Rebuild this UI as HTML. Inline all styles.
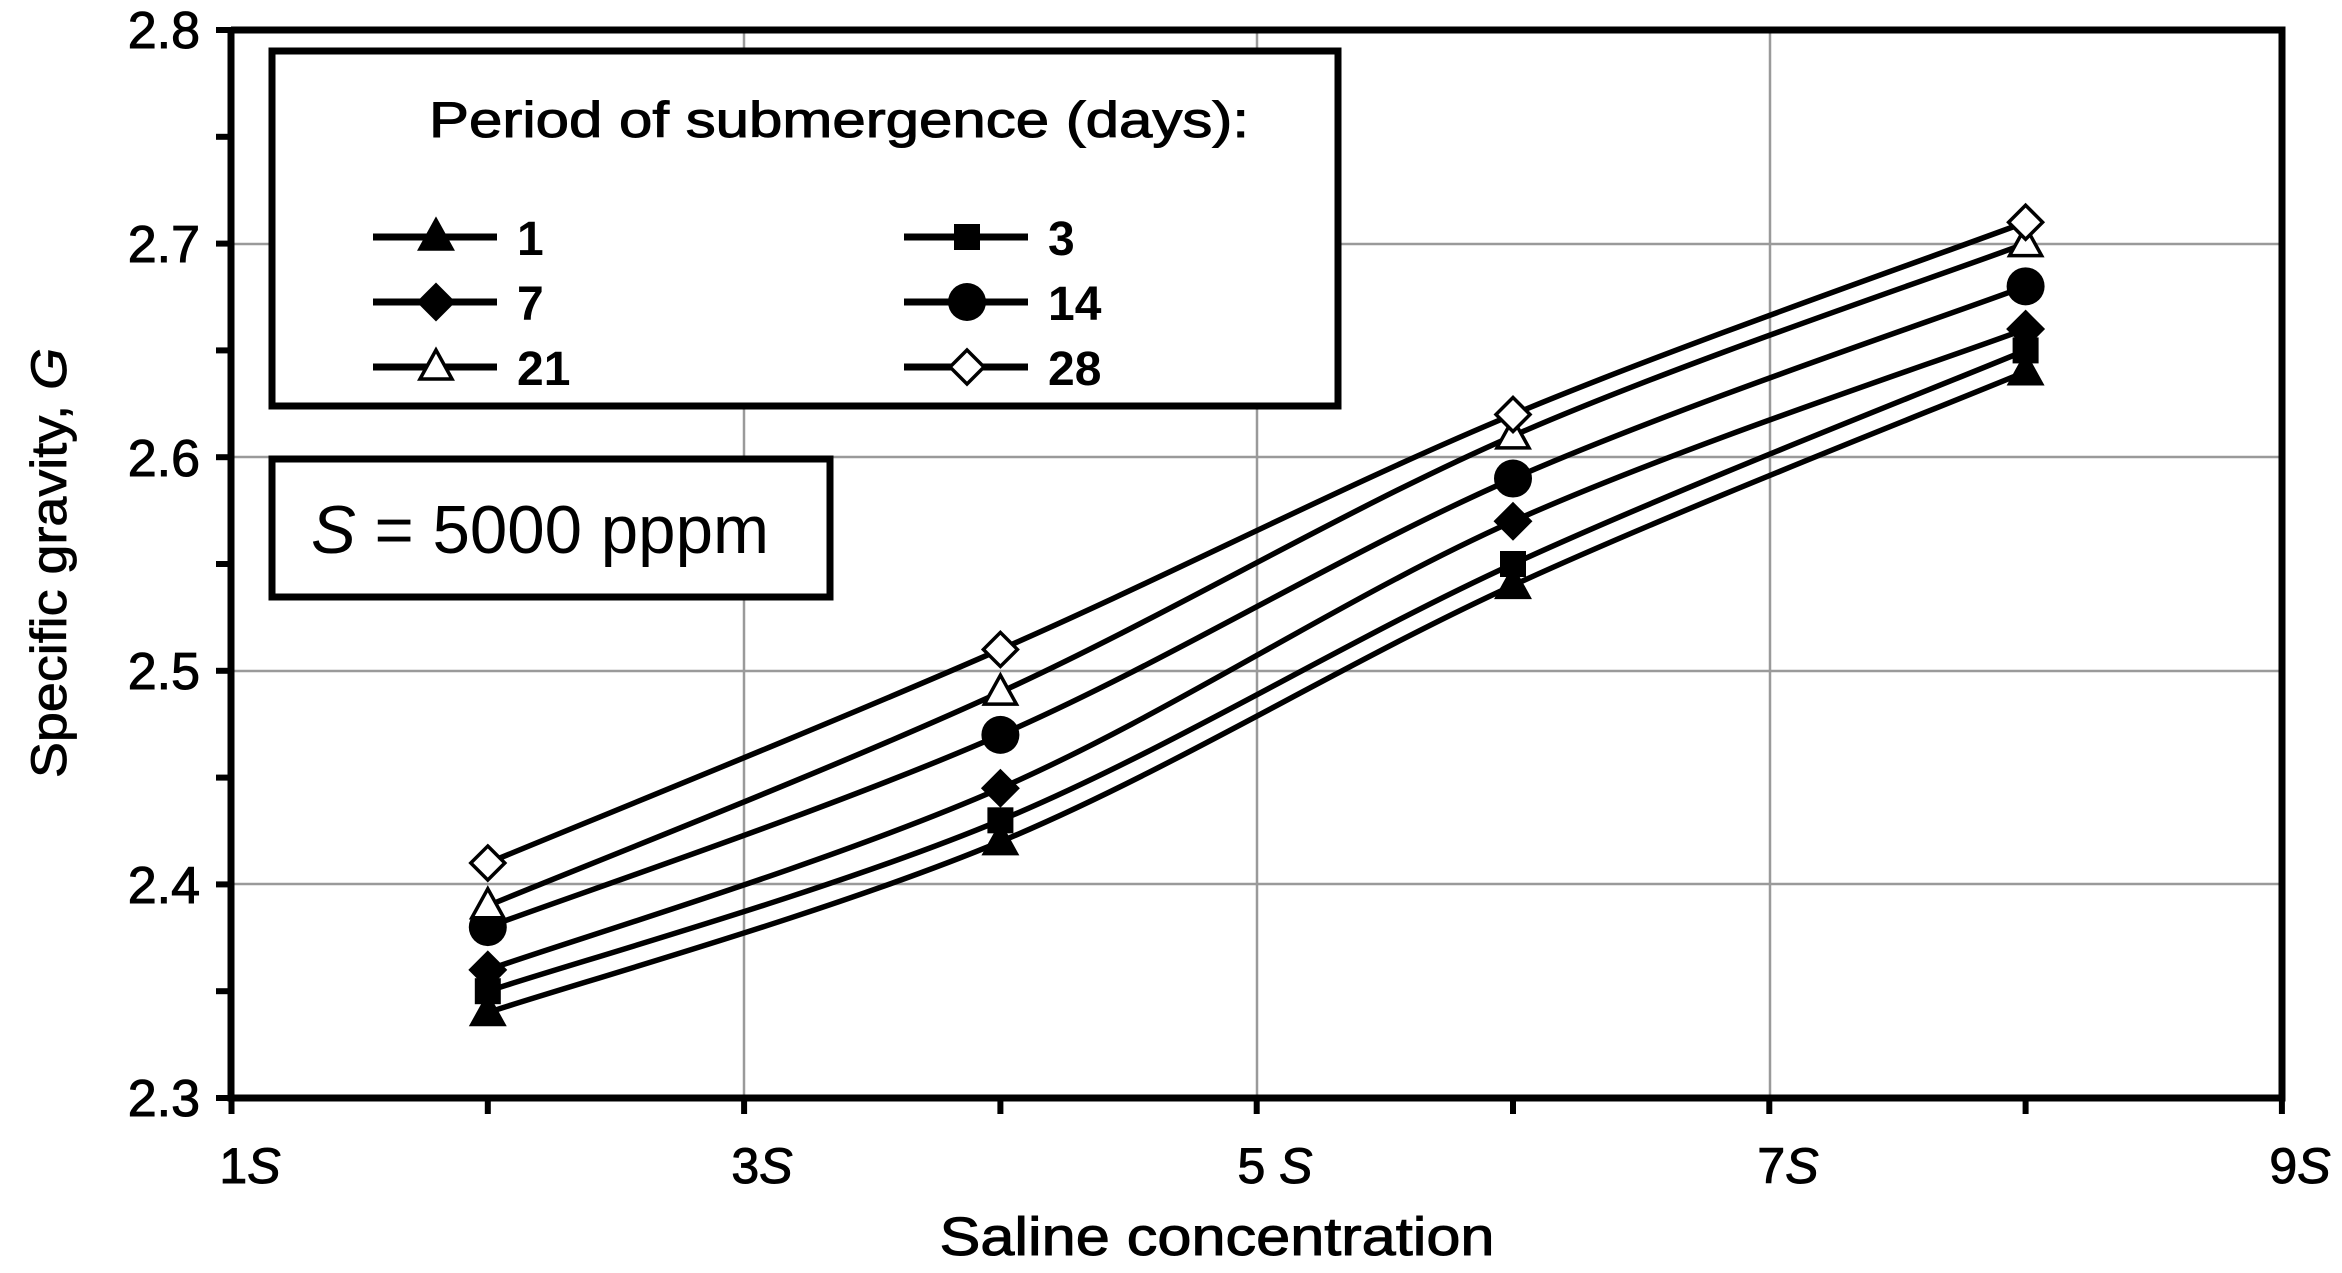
<!DOCTYPE html>
<html><head><meta charset="utf-8"><style>
html,body{margin:0;padding:0;background:#fff;}
svg{display:block;}
text{font-family:"Liberation Sans",sans-serif;fill:#000;}
</style></head><body>
<svg id="s" width="2342" height="1273" viewBox="0 0 2342 1273" xmlns="http://www.w3.org/2000/svg">
<rect width="2342" height="1273" fill="#fff"/>
<g stroke="#9a9a9a" stroke-width="2.5">
<line x1="744" y1="30" x2="744" y2="1098"/>
<line x1="1257" y1="30" x2="1257" y2="1098"/>
<line x1="1770" y1="30" x2="1770" y2="1098"/>
<line x1="231" y1="884" x2="2282" y2="884"/>
<line x1="231" y1="671" x2="2282" y2="671"/>
<line x1="231" y1="457" x2="2282" y2="457"/>
<line x1="231" y1="244" x2="2282" y2="244"/>
</g>
<g id="curves" fill="none" stroke="#000" stroke-width="5.5"></g>
<g id="marks"></g>
<g stroke="#000" stroke-width="7" fill="none">
<polyline points="231,30 2282,30 2282,1098 231,1098 231,30"/>
</g>
<g stroke="#000" stroke-width="6" id="ticks"></g>
<g font-size="52" text-anchor="end" stroke="#000" stroke-width="1">
<text x="200" y="48">2.8</text><text x="200" y="262">2.7</text><text x="200" y="476">2.6</text>
<text x="200" y="689">2.5</text><text x="200" y="903">2.4</text><text x="200" y="1116">2.3</text>
</g>
<g font-size="50" text-anchor="middle" stroke="#000" stroke-width="1">
<text x="250" y="1183">1<tspan font-style="italic">S</tspan></text>
<text x="762" y="1183">3<tspan font-style="italic">S</tspan></text>
<text x="1275" y="1183">5 <tspan font-style="italic">S</tspan></text>
<text x="1788" y="1183">7<tspan font-style="italic">S</tspan></text>
<text x="2300" y="1183">9<tspan font-style="italic">S</tspan></text>
</g>
<text x="1217" y="1255" font-size="54" text-anchor="middle" stroke="#000" stroke-width="1" textLength="555" lengthAdjust="spacingAndGlyphs">Saline concentration</text>
<text transform="translate(66,778) rotate(-90)" font-size="50" stroke="#000" stroke-width="0.8" textLength="430" lengthAdjust="spacingAndGlyphs">Specific gravity, <tspan font-style="italic">G</tspan></text>
<rect x="272" y="51" width="1066" height="355" fill="#fff" stroke="#000" stroke-width="7"/>
<text x="429" y="137" font-size="50" stroke="#000" stroke-width="1" textLength="820" lengthAdjust="spacingAndGlyphs">Period of submergence (days):</text>
<g id="leg"></g>
<rect x="272" y="459" width="558" height="138" fill="#fff" stroke="#000" stroke-width="7"/>
<text x="311" y="553" font-size="68" textLength="458" lengthAdjust="spacingAndGlyphs"><tspan font-style="italic">S</tspan> = 5000 pppm</text>
</svg>
<script>
var NS="http://www.w3.org/2000/svg";
function X(v){return 231.5+(v-1)*256.3;}
function Y(g){return 1098-(g-2.3)*2136;}
var data=[
 ["tri",[2.34,2.42,2.54,2.64]],
 ["sq",[2.35,2.43,2.55,2.65]],
 ["dia",[2.36,2.445,2.57,2.66]],
 ["circ",[2.38,2.47,2.59,2.68]],
 ["otri",[2.39,2.49,2.61,2.70]],
 ["odia",[2.41,2.51,2.62,2.71]]];
var xs=[2,4,6,8];
function el(t,a,p){var e=document.createElementNS(NS,t);for(var k in a)e.setAttribute(k,a[k]);p.appendChild(e);return e;}
function marker(type,x,y,p){
 var f=(type[0]=="o")?"#fff":"#000";var sw=3.5;
 if(type=="tri"||type=="otri"){el("polygon",{points:(x)+","+(y-17)+" "+(x-16)+","+(y+12)+" "+(x+16)+","+(y+12),fill:f,stroke:"#000","stroke-width":sw},p);}
 else if(type=="sq"){el("rect",{x:x-13,y:y-13,width:26,height:26,fill:"#000"},p);}
 else if(type=="dia"||type=="odia"){el("polygon",{points:x+","+(y-17)+" "+(x+17)+","+y+" "+x+","+(y+17)+" "+(x-17)+","+y,fill:f,stroke:"#000","stroke-width":sw},p);}
 else if(type=="circ"){el("circle",{cx:x,cy:y,r:19,fill:"#000"},p);}
}
var cg=document.getElementById("curves"),mg=document.getElementById("marks");
data.forEach(function(s){
 var P=xs.map(function(v,i){return [X(v),Y(s[1][i])];});
 var d="M"+P[0][0]+","+P[0][1];
 for(var i=0;i<P.length-1;i++){
  var p0=P[i-1]||P[i],p1=P[i],p2=P[i+1],p3=P[i+2]||P[i+1];
  var c1=[p1[0]+(p2[0]-p0[0])/6,p1[1]+(p2[1]-p0[1])/6];
  var c2=[p2[0]-(p3[0]-p1[0])/6,p2[1]-(p3[1]-p1[1])/6];
  d+=" C"+c1+" "+c2+" "+p2;
 }
 el("path",{d:d},cg);
 P.forEach(function(q){marker(s[0],q[0],q[1],mg);});
});
var tg=document.getElementById("ticks");
for(var g=2.3;g<=2.8001;g+=0.05){var y=Y(g);el("line",{x1:216,y1:y,x2:231,y2:y},tg);}
for(var v=1;v<=9;v++){var x=X(v);el("line",{x1:x,y1:1098,x2:x,y2:1114},tg);}
var lg=document.getElementById("leg");
var L=[["tri","1",373,237],["sq","3",904,237],["dia","7",373,302],["circ","14",904,302],["otri","21",373,367],["odia","28",904,367]];
L.forEach(function(l){
 el("line",{x1:l[2],y1:l[3],x2:l[2]+124,y2:l[3],stroke:"#000","stroke-width":7},lg);
 marker(l[0],l[2]+63,l[3],lg);
 var t=el("text",{x:l[2]+144,y:l[3]+18,"font-size":48,"font-weight":"bold"},lg);t.textContent=l[1];
});
</script>
</body></html>
